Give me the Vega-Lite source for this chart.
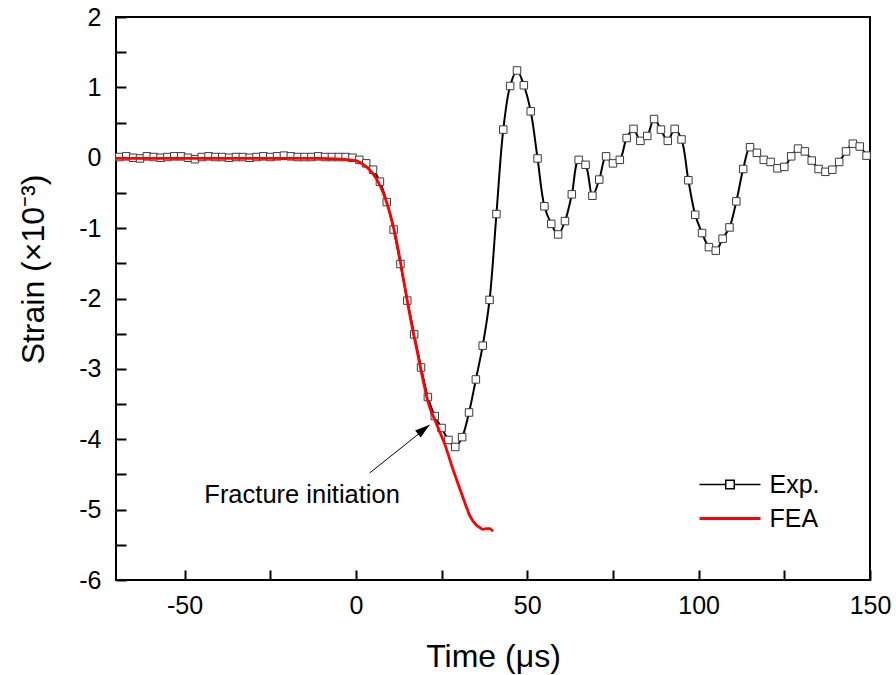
{
  "$schema": "https://vega.github.io/schema/vega-lite/v6.json",
  "width": 754,
  "height": 563,
  "autosize": {"type": "none"},
  "padding": {"left": 116, "top": 17, "right": 26, "bottom": 95},
  "background": "white",
  "config": {
    "font": "Liberation Sans",
    "view": {"stroke": "black", "strokeWidth": 2}
  },
  "datasets": {
    "curves": [
      {"series": "Exp.", "t": -69, "v": 0.01}, {"series": "Exp.", "t": -67, "v": 0.02}, {"series": "Exp.", "t": -65, "v": 0.0},
      {"series": "Exp.", "t": -63, "v": -0.01}, {"series": "Exp.", "t": -61, "v": 0.02}, {"series": "Exp.", "t": -59, "v": 0.01},
      {"series": "Exp.", "t": -57, "v": 0.0}, {"series": "Exp.", "t": -55, "v": 0.01}, {"series": "Exp.", "t": -53, "v": 0.02},
      {"series": "Exp.", "t": -51, "v": 0.02}, {"series": "Exp.", "t": -49, "v": 0.0}, {"series": "Exp.", "t": -47, "v": -0.02},
      {"series": "Exp.", "t": -45, "v": 0.01}, {"series": "Exp.", "t": -43, "v": 0.02}, {"series": "Exp.", "t": -41, "v": 0.01},
      {"series": "Exp.", "t": -39, "v": 0.01}, {"series": "Exp.", "t": -37, "v": 0.0}, {"series": "Exp.", "t": -35, "v": 0.01},
      {"series": "Exp.", "t": -33, "v": 0.01}, {"series": "Exp.", "t": -31, "v": 0.0}, {"series": "Exp.", "t": -29, "v": 0.01},
      {"series": "Exp.", "t": -27, "v": 0.02}, {"series": "Exp.", "t": -25, "v": 0.01}, {"series": "Exp.", "t": -23, "v": 0.02},
      {"series": "Exp.", "t": -21, "v": 0.03}, {"series": "Exp.", "t": -19, "v": 0.02}, {"series": "Exp.", "t": -17, "v": 0.01},
      {"series": "Exp.", "t": -15, "v": 0.01}, {"series": "Exp.", "t": -13, "v": 0.01}, {"series": "Exp.", "t": -11, "v": 0.02},
      {"series": "Exp.", "t": -9, "v": 0.01}, {"series": "Exp.", "t": -7, "v": 0.01}, {"series": "Exp.", "t": -5, "v": 0.01},
      {"series": "Exp.", "t": -3, "v": 0.01}, {"series": "Exp.", "t": -1, "v": 0.0}, {"series": "Exp.", "t": 1, "v": -0.03},
      {"series": "Exp.", "t": 3, "v": -0.08}, {"series": "Exp.", "t": 5, "v": -0.17}, {"series": "Exp.", "t": 7, "v": -0.34},
      {"series": "Exp.", "t": 9, "v": -0.63}, {"series": "Exp.", "t": 11, "v": -1.02}, {"series": "Exp.", "t": 13, "v": -1.51},
      {"series": "Exp.", "t": 15, "v": -2.03}, {"series": "Exp.", "t": 17, "v": -2.51}, {"series": "Exp.", "t": 19, "v": -2.98},
      {"series": "Exp.", "t": 21, "v": -3.4}, {"series": "Exp.", "t": 23, "v": -3.67}, {"series": "Exp.", "t": 25, "v": -3.84},
      {"series": "Exp.", "t": 27, "v": -4.01}, {"series": "Exp.", "t": 29, "v": -4.11}, {"series": "Exp.", "t": 31, "v": -3.97},
      {"series": "Exp.", "t": 33, "v": -3.62}, {"series": "Exp.", "t": 35, "v": -3.15}, {"series": "Exp.", "t": 37, "v": -2.67},
      {"series": "Exp.", "t": 39, "v": -2.02}, {"series": "Exp.", "t": 41, "v": -0.8}, {"series": "Exp.", "t": 43, "v": 0.4},
      {"series": "Exp.", "t": 45, "v": 1.02}, {"series": "Exp.", "t": 47, "v": 1.24}, {"series": "Exp.", "t": 49, "v": 1.03},
      {"series": "Exp.", "t": 51, "v": 0.66}, {"series": "Exp.", "t": 53, "v": -0.01}, {"series": "Exp.", "t": 55, "v": -0.69},
      {"series": "Exp.", "t": 57, "v": -0.94}, {"series": "Exp.", "t": 59, "v": -1.09}, {"series": "Exp.", "t": 61, "v": -0.9},
      {"series": "Exp.", "t": 63, "v": -0.52}, {"series": "Exp.", "t": 65, "v": -0.03}, {"series": "Exp.", "t": 67, "v": -0.1},
      {"series": "Exp.", "t": 69, "v": -0.54}, {"series": "Exp.", "t": 71, "v": -0.31}, {"series": "Exp.", "t": 73, "v": 0.02},
      {"series": "Exp.", "t": 75, "v": -0.08}, {"series": "Exp.", "t": 77, "v": -0.03}, {"series": "Exp.", "t": 79, "v": 0.28},
      {"series": "Exp.", "t": 81, "v": 0.41}, {"series": "Exp.", "t": 83, "v": 0.24}, {"series": "Exp.", "t": 85, "v": 0.31},
      {"series": "Exp.", "t": 87, "v": 0.55}, {"series": "Exp.", "t": 89, "v": 0.4}, {"series": "Exp.", "t": 91, "v": 0.24},
      {"series": "Exp.", "t": 93, "v": 0.41}, {"series": "Exp.", "t": 95, "v": 0.26}, {"series": "Exp.", "t": 97, "v": -0.32},
      {"series": "Exp.", "t": 99, "v": -0.81}, {"series": "Exp.", "t": 101, "v": -1.07}, {"series": "Exp.", "t": 103, "v": -1.27},
      {"series": "Exp.", "t": 105, "v": -1.32}, {"series": "Exp.", "t": 107, "v": -1.15}, {"series": "Exp.", "t": 109, "v": -0.99},
      {"series": "Exp.", "t": 111, "v": -0.62}, {"series": "Exp.", "t": 113, "v": -0.16}, {"series": "Exp.", "t": 115, "v": 0.15},
      {"series": "Exp.", "t": 117, "v": 0.07}, {"series": "Exp.", "t": 119, "v": -0.03}, {"series": "Exp.", "t": 121, "v": -0.06},
      {"series": "Exp.", "t": 123, "v": -0.15}, {"series": "Exp.", "t": 125, "v": -0.13}, {"series": "Exp.", "t": 127, "v": 0.02},
      {"series": "Exp.", "t": 129, "v": 0.13}, {"series": "Exp.", "t": 131, "v": 0.09}, {"series": "Exp.", "t": 133, "v": -0.04},
      {"series": "Exp.", "t": 135, "v": -0.16}, {"series": "Exp.", "t": 137, "v": -0.2}, {"series": "Exp.", "t": 139, "v": -0.17},
      {"series": "Exp.", "t": 141, "v": -0.06}, {"series": "Exp.", "t": 143, "v": 0.09}, {"series": "Exp.", "t": 145, "v": 0.2},
      {"series": "Exp.", "t": 147, "v": 0.16}, {"series": "Exp.", "t": 149, "v": 0.03},
      {"series": "FEA", "t": -70, "v": -0.01}, {"series": "FEA", "t": -60, "v": -0.01}, {"series": "FEA", "t": -50, "v": -0.01},
      {"series": "FEA", "t": -40, "v": -0.01}, {"series": "FEA", "t": -30, "v": -0.01}, {"series": "FEA", "t": -20, "v": -0.01},
      {"series": "FEA", "t": -10, "v": -0.01}, {"series": "FEA", "t": -6, "v": -0.015}, {"series": "FEA", "t": -4, "v": -0.02},
      {"series": "FEA", "t": -2, "v": -0.03}, {"series": "FEA", "t": 0, "v": -0.04}, {"series": "FEA", "t": 2, "v": -0.09},
      {"series": "FEA", "t": 4, "v": -0.17}, {"series": "FEA", "t": 6, "v": -0.3}, {"series": "FEA", "t": 8, "v": -0.5},
      {"series": "FEA", "t": 10, "v": -0.8}, {"series": "FEA", "t": 12, "v": -1.22}, {"series": "FEA", "t": 14, "v": -1.76},
      {"series": "FEA", "t": 16, "v": -2.3}, {"series": "FEA", "t": 18, "v": -2.78}, {"series": "FEA", "t": 20, "v": -3.25},
      {"series": "FEA", "t": 21, "v": -3.46}, {"series": "FEA", "t": 22, "v": -3.61}, {"series": "FEA", "t": 23, "v": -3.72},
      {"series": "FEA", "t": 24, "v": -3.84}, {"series": "FEA", "t": 26, "v": -4.08}, {"series": "FEA", "t": 28, "v": -4.38},
      {"series": "FEA", "t": 30, "v": -4.66}, {"series": "FEA", "t": 32, "v": -4.93}, {"series": "FEA", "t": 33, "v": -5.06},
      {"series": "FEA", "t": 34, "v": -5.15}, {"series": "FEA", "t": 35, "v": -5.21}, {"series": "FEA", "t": 36, "v": -5.25},
      {"series": "FEA", "t": 37, "v": -5.28}, {"series": "FEA", "t": 38, "v": -5.27}, {"series": "FEA", "t": 39, "v": -5.27},
      {"series": "FEA", "t": 40, "v": -5.31}
    ],
    "arrow": [{"t": 4.0, "v": -4.48, "t2": 21.5, "v2": -3.8}],
    "head": [{"t": 19.8, "v": -3.86}],
    "note": [{"t": -15.7, "v": -4.91, "label": "Fracture initiation"}]
  },
  "encoding": {
    "x": {
      "field": "t", "type": "quantitative",
      "scale": {"domain": [-70, 150], "nice": false, "zero": false},
      "axis": {
        "title": "Time (μs)",
        "values": [-50, -25, 0, 25, 50, 75, 100, 125, 150],
        "labelExpr": "datum.value % 50 === 0 ? '' + datum.value : ''",
        "grid": false, "domain": false,
        "tickSize": -10, "tickWidth": 2, "tickColor": "black",
        "labelPadding": 23, "labelFontSize": 25, "labelColor": "black", "labelFont": "Liberation Sans",
        "labelFlush": false, "labelOverlap": false,
        "titleFontSize": 32, "titleFont": "Liberation Sans", "titleFontWeight": "normal", "titleColor": "black",
        "titleY": 86, "titleBaseline": "alphabetic",
        "encode": {"ticks": {"update": {"y2": {"signal": "datum.value % 50 === 0 ? -10 : -5"}}}}
      }
    },
    "y": {
      "field": "v", "type": "quantitative",
      "scale": {"domain": [-6, 2], "nice": false, "zero": false},
      "axis": {
        "title": "Strain (×10⁻³)",
        "values": [-6, -5.5, -5, -4.5, -4, -3.5, -3, -2.5, -2, -1.5, -1, -0.5, 0, 0.5, 1, 1.5, 2],
        "labelExpr": "datum.value % 1 === 0 ? '' + datum.value : ''",
        "grid": false, "domain": false,
        "tickSize": -10, "tickWidth": 2, "tickColor": "black",
        "labelPadding": 25, "labelFontSize": 25, "labelColor": "black", "labelFont": "Liberation Sans",
        "labelFlush": false, "labelOverlap": false,
        "titleFontSize": 32, "titleFont": "Liberation Sans", "titleFontWeight": "normal", "titleColor": "black",
        "titleX": -73, "titleY": 252, "titleAngle": -90, "titleAlign": "center", "titleBaseline": "alphabetic",
        "encode": {"ticks": {"update": {"x2": {"signal": "datum.value % 1 === 0 ? 10 : 5"}}}}
      }
    }
  },
  "layer": [
    {
      "data": {"name": "curves"},
      "transform": [{"filter": "datum.series === 'Exp.'"}],
      "mark": {"type": "line", "strokeWidth": 2, "interpolate": "catmull-rom"},
      "encoding": {
        "color": {
          "field": "series", "type": "nominal",
          "scale": {"domain": ["Exp.", "FEA"], "range": ["#000000", "#ff0000"]},
          "legend": {
            "orient": "none", "legendX": 583, "legendY": 455, "title": null, "padding": 0,
            "labelFontSize": 25, "labelFont": "Liberation Sans", "labelColor": "black",
            "symbolSize": 3721, "symbolOffset": 18.5, "labelOffset": 27, "rowPadding": 8, "labelLimit": 0,
            "encode": {
              "symbols": {
                "update": {
                  "shape": {"signal": "datum.value === 'Exp.' ? 'M-1,0H-0.14M0.14,0H1M-0.14,-0.14H0.14V0.14H-0.14Z' : 'stroke'"},
                  "fill": {"value": "white"},
                  "strokeWidth": {"signal": "datum.value === 'Exp.' ? 1.5 : 3"}
                }
              }
            }
          }
        }
      }
    },
    {
      "data": {"name": "curves"},
      "transform": [{"filter": "datum.series === 'Exp.'"}],
      "mark": {"type": "point", "shape": "square", "filled": false, "fill": "white", "stroke": "#3a3a3a", "strokeWidth": 1, "size": 56, "opacity": 1}
    },
    {
      "data": {"name": "curves"},
      "transform": [{"filter": "datum.series === 'FEA'"}],
      "mark": {"type": "line", "strokeWidth": 2.8, "interpolate": "monotone"},
      "encoding": {
        "color": {"field": "series", "type": "nominal"}
      }
    },
    {
      "data": {"name": "arrow"},
      "mark": {"type": "rule", "color": "black", "strokeWidth": 1},
      "encoding": {
        "x2": {"field": "t2"},
        "y2": {"field": "v2"}
      }
    },
    {
      "data": {"name": "head"},
      "mark": {"type": "point", "shape": "M0,-1L0.6,1L-0.6,1Z", "filled": true, "color": "black", "size": 225, "angle": 51, "opacity": 1}
    },
    {
      "data": {"name": "note"},
      "mark": {"type": "text", "fontSize": 25.5, "align": "center", "baseline": "alphabetic", "font": "Liberation Sans", "color": "black"},
      "encoding": {"text": {"field": "label"}}
    }
  ]
}
